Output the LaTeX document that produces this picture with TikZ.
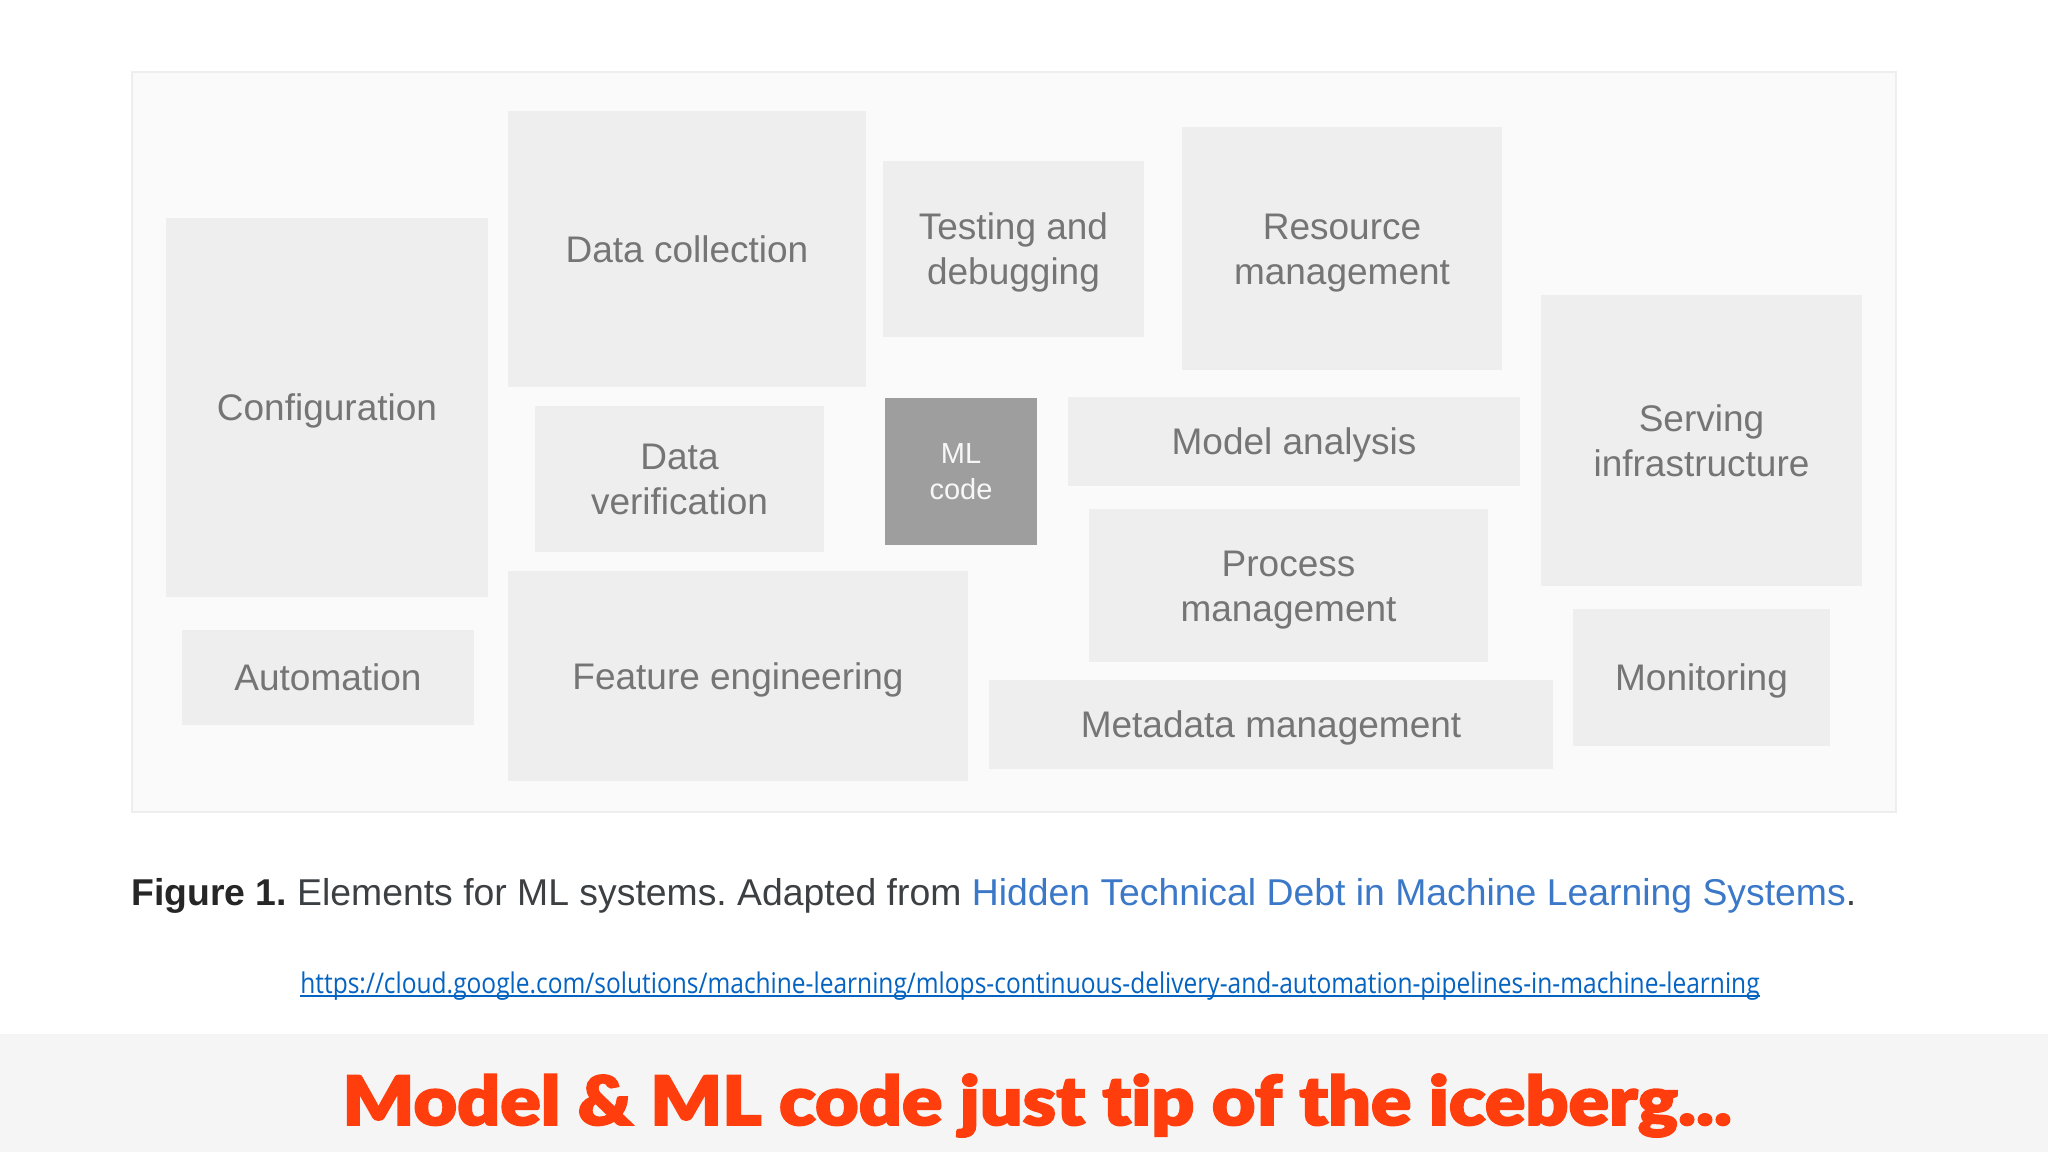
\documentclass[tikz,border=0pt]{standalone}
\usepackage{fontspec}
\setmainfont{Liberation Sans}
\newfontfamily\urlfont[FakeStretch=0.86]{Open Sans}
\newfontfamily\titlefont[UprightFont=* Black, FakeStretch=1.105, FakeBold=2.5, Ligatures=NoCommon]{Lato}
\definecolor{framefill}{HTML}{FAFAFA}
\definecolor{frameline}{HTML}{EEEEEE}
\definecolor{boxfill}{HTML}{EEEEEE}
\definecolor{boxtext}{HTML}{757575}
\definecolor{mlfill}{HTML}{9E9E9E}
\definecolor{captext}{HTML}{3C4043}
\definecolor{linktext}{HTML}{3B78C8}
\definecolor{urltext}{HTML}{0563C1}
\definecolor{bandfill}{HTML}{F5F5F5}
\definecolor{titletext}{HTML}{FF3D0D}
\newcommand{\blocktext}[1]{\strut\raisebox{-0.11em}{#1}}
\tikzset{
	block/.style={fill=boxfill, text=boxtext, align=center, inner sep=0pt, font=\fontsize{37}{45}\selectfont},
	mlblock/.style={block, fill=mlfill, text=white!92!mlfill, font=\fontsize{29}{36}\selectfont},
}

\begin{document}
\begin{tikzpicture}[x=1pt, y=-1pt]
		%%%%% START %%%%%
		\useasboundingbox (0, 0) rectangle (2048, 1152);
		\fill[white] (0, 0) rectangle (2048, 1152);

		\draw[line width=2pt, draw=frameline, fill=framefill] (132, 72) rectangle (1896, 812);

		\node[block, minimum width=322pt, minimum height=379pt] (config) at (327, 407.5) {\blocktext{Configuration}};
		\node[block, minimum width=292pt, minimum height=95pt] (auto) at (328, 677.5) {\blocktext{Automation}};

		\node[block, minimum width=358pt, minimum height=276pt] (collect) at (687, 249) {\blocktext{Data collection}};
		\node[block, minimum width=289pt, minimum height=146pt] (verify) at (679.5, 479) {\blocktext{Data}\\\blocktext{verification}};
		\node[block, minimum width=460pt, minimum height=210pt] (feature) at (738, 676) {\blocktext{Feature engineering}};

		\node[block, minimum width=261pt, minimum height=176pt] (testing) at (1013.5, 249) {\blocktext{Testing and}\\\blocktext{debugging}};
		\node[mlblock, minimum width=152pt, minimum height=147pt] (mlcode) at (961, 471.5) {\blocktext{ML}\\\blocktext{code}};

		\node[block, minimum width=320pt, minimum height=243pt] (resource) at (1342, 248.5) {\blocktext{Resource}\\\blocktext{management}};
		\node[block, minimum width=452pt, minimum height=89pt] (analysis) at (1294, 441.5) {\blocktext{Model analysis}};
		\node[block, minimum width=399pt, minimum height=153pt] (process) at (1288.5, 585.5) {\blocktext{Process}\\\blocktext{management}};
		\node[block, minimum width=564pt, minimum height=89pt] (metadata) at (1271, 724.5) {\blocktext{Metadata management}};

		\node[block, minimum width=321pt, minimum height=291pt] (serving) at (1701.5, 440.5) {\blocktext{Serving}\\\blocktext{infrastructure}};
		\node[block, minimum width=257pt, minimum height=137pt] (monitor) at (1701.5, 677.5) {\blocktext{Monitoring}};

		\node[anchor=base west, inner sep=0pt, text=captext, font=\fontsize{37.35}{44}\selectfont\frenchspacing] (caption) at (131, 905) {\textcolor{black!85}{\textbf{Figure 1.}} Elements for ML systems. Adapted from \textcolor{linktext}{Hidden Technical Debt in Machine Learning Systems}.};
		\node[anchor=base, inner sep=0pt, text=urltext, font=\urlfont\fontsize{28.5}{32}\selectfont] (source) at (1030, 993) {https://cloud.google.com/solutions/machine-learning/mlops-continuous-delivery-and-automation-pipelines-in-machine-learning};
		\draw[line width=1.5pt, urltext] ([yshift=-3pt]source.base west) -- ([yshift=-3pt]source.base east);

		\fill[bandfill] (0, 1034) rectangle (2048, 1152);
		\node[anchor=base, inner sep=0pt, text=titletext, font=\titlefont\fontsize{68}{80}\selectfont] (headline) at (1037, 1125) {Model \& ML code just tip of the iceberg...};
		%%%%% END %%%%%
	\end{tikzpicture}
\end{document}
